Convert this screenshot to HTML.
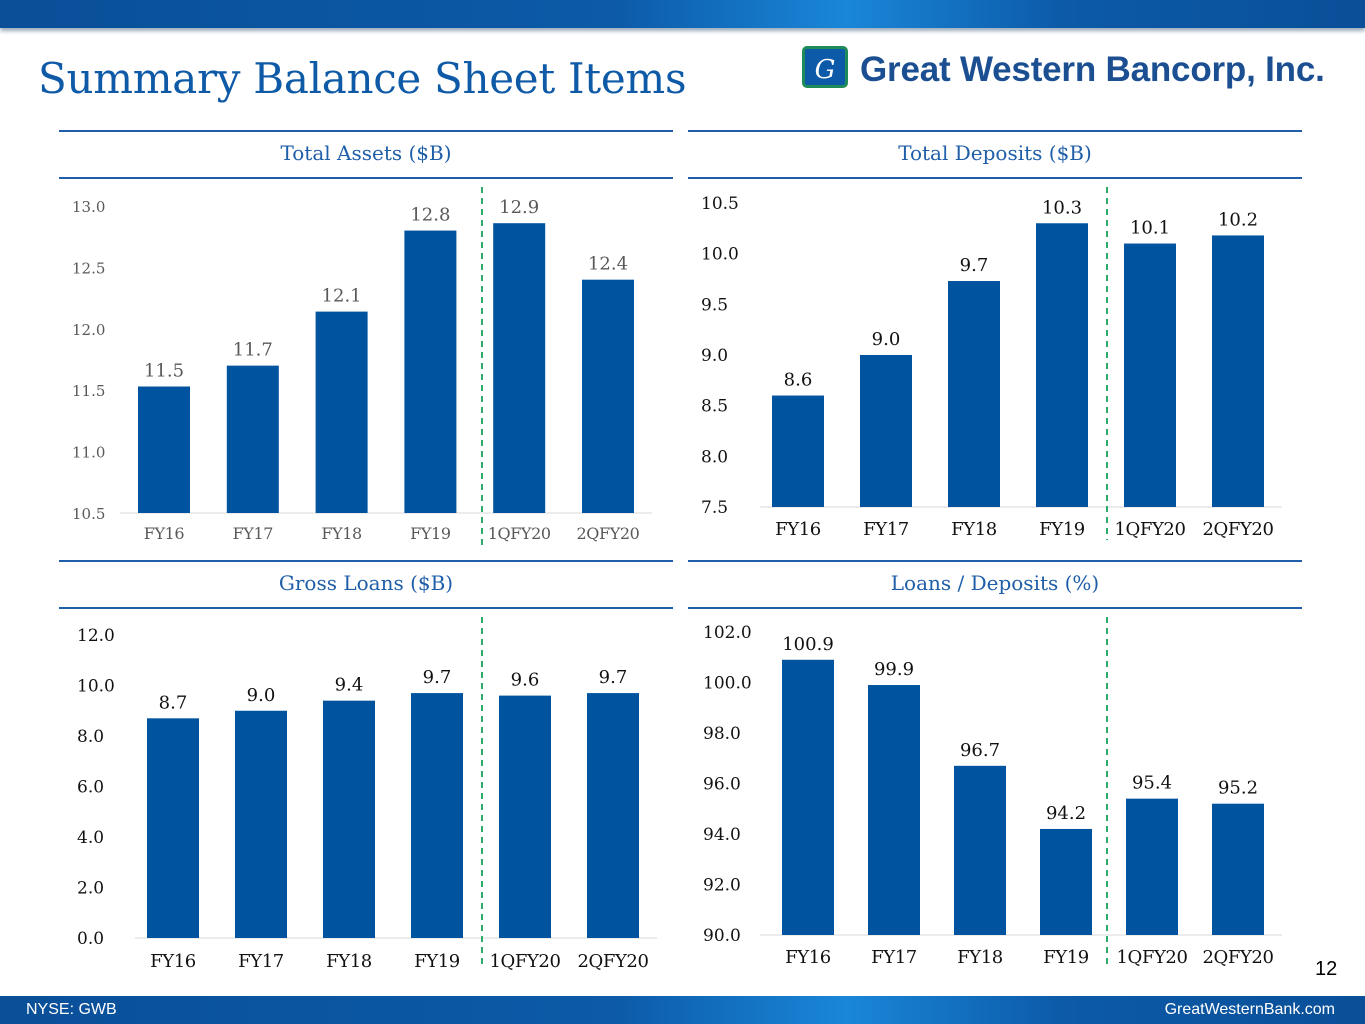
<!DOCTYPE html>
<html><head><meta charset="utf-8"><style>
body{margin:0;width:1365px;height:1024px;position:relative;background:#fff;overflow:hidden;font-family:"DejaVu Serif","Liberation Serif",serif}
.band{position:absolute;left:0;width:1365px;background:linear-gradient(90deg,#0a4f98 0%,#0c5aa8 45%,#1a86d8 62%,#0c5aa8 78%,#0a4f98 100%)}
</style></head><body>
<div class="band" style="top:0;height:28px;box-shadow:0 3px 4px #9ab"></div>
<div style="position:absolute;left:38px;top:54px;font-size:42px;color:#0e5aa7;letter-spacing:-0.3px">Summary Balance Sheet Items</div>
<div style="position:absolute;left:802px;top:46px;">
<div style="position:absolute;left:0;top:0;width:46px;height:42px;background:#0c5aa8;border:3px solid #1f8a5a;border-radius:5px;color:#fff;font-style:italic;font-size:26px;text-align:center;line-height:42px;box-sizing:border-box">G</div>
<div style="position:absolute;left:58px;top:4px;white-space:nowrap;font-family:'Liberation Sans',sans-serif;font-weight:bold;font-size:35px;color:#1c4f92;letter-spacing:-0.2px">Great Western Bancorp, Inc.</div></div>
<svg width="1365" height="1024" style="position:absolute;left:0;top:0" id="svg"></svg>
<div style="position:absolute;left:1315px;top:958px;font-family:'Liberation Sans',sans-serif;font-size:20px">12</div>
<div class="band" style="top:996px;height:28px"></div>
<div style="position:absolute;left:26px;top:1001px;color:#fff;font-family:'Liberation Sans',sans-serif;font-size:16px">NYSE: GWB</div>
<div style="position:absolute;right:30px;top:1001px;color:#fff;font-family:'Liberation Sans',sans-serif;font-size:16px">GreatWesternBank.com</div>
<script>
const categories=["FY16","FY17","FY18","FY19","1QFY20","2QFY20"];
const assetsValues=[11.53,11.7,12.14,12.8,12.86,12.4];
const assetsLabels=["11.5","11.7","12.1","12.8","12.9","12.4"];
const assetsTicks=[10.5,11.0,11.5,12.0,12.5,13.0];
const depositsValues=[8.6,9.0,9.73,10.3,10.1,10.18];
const depositsLabels=["8.6","9.0","9.7","10.3","10.1","10.2"];
const depositsTicks=[7.5,8.0,8.5,9.0,9.5,10.0,10.5];
const loansValues=[8.7,9.0,9.4,9.7,9.6,9.7];
const loansLabels=["8.7","9.0","9.4","9.7","9.6","9.7"];
const loansTicks=[0,2,4,6,8,10,12];
const ratioValues=[100.9,99.9,96.7,94.2,95.4,95.2];
const ratioLabels=["100.9","99.9","96.7","94.2","95.4","95.2"];
const ratioTicks=[90,92,94,96,98,100,102];
const svg=document.getElementById('svg');const NS='http://www.w3.org/2000/svg';
function mk(t,a,txt){const e=document.createElementNS(NS,t);for(const k in a)e.setAttribute(k,a[k]);if(txt!=null)e.textContent=txt;svg.appendChild(e);return e;}
function chart(c){
 let e=mk('line',{x1:c.px,x2:c.px+614,y1:c.ly1,y2:c.ly1,stroke:'#1f5ea8','stroke-width':2});
 
 e=mk('line',{x1:c.px,x2:c.px+614,y1:c.ly1+47,y2:c.ly1+47,stroke:'#1f5ea8','stroke-width':2});
 
 e=mk('text',{x:c.px+307,y:c.ly1+29,'text-anchor':'middle','font-size':20,fill:'#1f5ea8'},c.title);
 
 const y=v=>c.y0+(v-c.t[0])/(c.t[c.t.length-1]-c.t[0])*(c.y1-c.y0);
 c.t.forEach(v=>{e=mk('text',{x:c.tx,y:y(v)+6,'font-size':c.tf,fill:c.tc},v.toFixed(1));
  });
 e=mk('line',{x1:c.bx0,x2:c.bx1,y1:c.y0,y2:c.y0,stroke:'#d9d9d9','stroke-width':1});
 
 categories.forEach((cat,i)=>{const cx=c.cx+i*c.sp,v=c.v[i];
  e=mk('rect',{x:cx-26,y:y(v),width:52,height:c.y0-y(v),fill:'#00539f'});
  
  e=mk('text',{x:cx,y:y(v)-10,'text-anchor':'middle','font-size':c.vf,fill:c.tc},c.l[i]);
  
  e=mk('text',{x:cx,y:c.catY,'text-anchor':'middle','font-size':c.cf,fill:c.cc,'letter-spacing':-0.4},cat);
  });
 e=mk('line',{x1:c.dx,x2:c.dx,y1:c.dy0,y2:c.dy1,stroke:'#2eaa6a','stroke-width':2,'stroke-dasharray':'6,5'});
 
}
chart({px:59,ly1:131,title:'Total Assets ($B)',t:assetsTicks,v:assetsValues,l:assetsLabels,y0:513,y1:206,tx:72,tf:15,vf:18,tc:'#595959',cc:'#595959',cf:16,bx0:120,bx1:652,cx:164,sp:88.8,catY:539,dx:482,dy0:187,dy1:548});
chart({px:688,ly1:131,title:'Total Deposits ($B)',t:depositsTicks,v:depositsValues,l:depositsLabels,y0:507,y1:203,tx:701,tf:17,vf:18,tc:'#111',cc:'#111',cf:18,bx0:760,bx1:1282,cx:798,sp:88,catY:535,dx:1107,dy0:187,dy1:540});
chart({px:59,ly1:561,title:'Gross Loans ($B)',t:loansTicks,v:loansValues,l:loansLabels,y0:938,y1:635,tx:77,tf:17,vf:18,tc:'#111',cc:'#111',cf:18,bx0:135,bx1:657,cx:173,sp:88,catY:967,dx:482,dy0:617,dy1:968});
chart({px:688,ly1:561,title:'Loans / Deposits (%)',t:ratioTicks,v:ratioValues,l:ratioLabels,y0:935,y1:632,tx:703,tf:17,vf:18,tc:'#111',cc:'#111',cf:18,bx0:760,bx1:1282,cx:808,sp:86,catY:963,dx:1107,dy0:617,dy1:968});
</script>
</body></html>
